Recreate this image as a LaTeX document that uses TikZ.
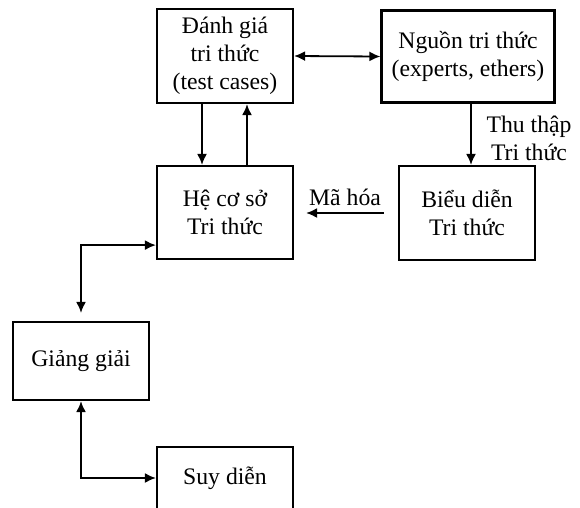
\documentclass[tikz,border=0pt]{standalone}
\usepackage{fontspec}
\setmainfont{Liberation Serif}
\usetikzlibrary{arrows.meta}
\begin{document}
\begin{tikzpicture}[x=1pt,y=-1pt,
  box/.style={draw,line width=2.2pt,minimum width=136pt,align=center,inner sep=0pt,
    font=\fontsize{23.7}{28}\selectfont},
  lbl/.style={align=center,inner sep=0pt,font=\fontsize{23.7}{28}\selectfont},
  conn/.style={line width=1.8pt,-{Latex[length=11pt,width=10pt]}},
  conn2/.style={line width=1.8pt,{Latex[length=11pt,width=10pt]}-{Latex[length=11pt,width=10pt]}}]
\useasboundingbox (0,0) rectangle (580,507);
\clip (0,0) rectangle (580,507);
\node[box,minimum height=94pt] (A) at (225,56) {Đánh giá\\tri thức\\(test cases)};
\node[box,minimum width=173pt,minimum height=92pt] (B) at (468,56.5) {Nguồn tri thức\\(experts, ethers)};
\node[box,minimum height=93pt] (C) at (225,212.5) {Hệ cơ sở\\Tri thức};
\node[box,minimum height=94pt] (D) at (467,213) {Biểu diễn\\Tri thức};
\node[box,minimum height=78pt] (E) at (81,361) {Giảng giải};
\node[box,minimum height=62pt] (F) at (225,478) {Suy diễn};
\draw[conn2] (A.east) -- (B.west);
\draw[conn] ([xshift=-23pt]A.south) -- ([xshift=-23pt]C.north);
\draw[conn] ([xshift=22pt]C.north) -- ([xshift=22pt]A.south);
\draw[conn] ([xshift=3pt]B.south) -- ([xshift=3pt]B.south |- D.north);
\draw[conn,shorten <=14pt,shorten >=12pt] (D.west) -- (D.west -| C.east);
\node[lbl] (mh) at (345,197) {Mã hóa};
\node[lbl] (tt) at (529,138) {Thu thập\\Tri thức};
\draw[conn2,shorten <=8pt] (E.north) |- ([yshift=15pt]C.south west);
\draw[conn2] (E.south) |- (F.west);
\end{tikzpicture}
\end{document}
